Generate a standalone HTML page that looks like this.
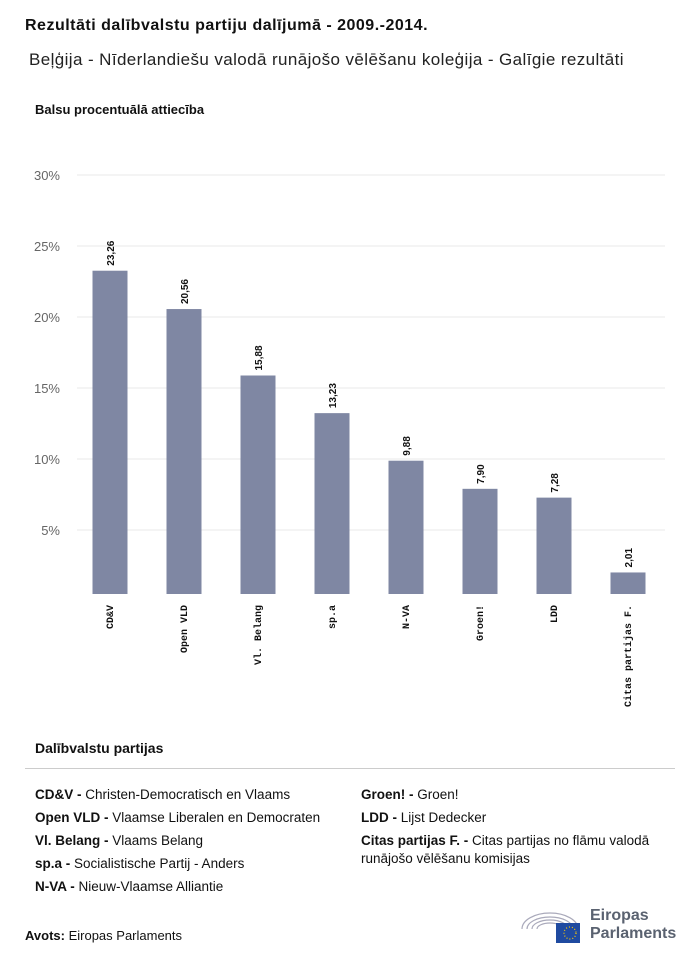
<!DOCTYPE html>
<html><head><meta charset="utf-8"><style>
body{margin:0;width:700px;height:962px;background:#fff;font-family:"Liberation Sans",sans-serif;color:#111;position:relative;overflow:hidden}
.a{position:absolute;white-space:nowrap}
.leg{font-size:13.5px;line-height:23px}
.leg b{font-weight:bold}
</style></head><body>
<div class="a" style="left:25px;top:17px;font-size:16px;font-weight:bold;letter-spacing:0.5px">Rezultāti dalībvalstu partiju dalījumā - 2009.-2014.</div>
<div class="a" style="left:29px;top:50px;font-size:17px;color:#222;letter-spacing:0.4px">Beļģija - Nīderlandiešu valodā runājošo vēlēšanu koleģija - Galīgie rezultāti</div>
<div class="a" style="left:35px;top:102px;font-size:13px;font-weight:bold">Balsu procentuālā attiecība</div>
<svg id="chart" width="700" height="730" style="position:absolute;left:0;top:0"></svg>
<div class="a" style="left:35px;top:740px;font-size:14px;font-weight:bold">Dalībvalstu partijas</div>
<div class="a" style="left:25px;top:768px;width:650px;height:1px;background:#ccc"></div>
<div class="a leg" style="left:35px;top:783px">
<div><b>CD&amp;V - </b>Christen-Democratisch en Vlaams</div>
<div><b>Open VLD - </b>Vlaamse Liberalen en Democraten</div>
<div><b>Vl. Belang - </b>Vlaams Belang</div>
<div><b>sp.a - </b>Socialistische Partij - Anders</div>
<div><b>N-VA - </b>Nieuw-Vlaamse Alliantie</div>
</div>
<div class="a leg" style="left:361px;top:783px">
<div><b>Groen! - </b>Groen!</div>
<div><b>LDD - </b>Lijst Dedecker</div>
<div style="line-height:18px;padding-top:3px"><b>Citas partijas F. - </b>Citas partijas no flāmu valodā<br>runājošo vēlēšanu komisijas</div>
</div>
<div class="a" style="left:25px;top:928px;font-size:13px"><b>Avots:</b> Eiropas Parlaments</div>
<div class="a" style="left:520px;top:905px;width:160px;height:40px">
<svg width="60" height="40" style="position:absolute;left:0;top:0"><g fill="none" stroke="#aab" stroke-width="1.2"><path d="M2 24 A28 16 0 0 1 58 24"/><path d="M7 24 A23 12 0 0 1 53 24"/><path d="M12 24 A18 9 0 0 1 48 24"/><path d="M17 24 A13 6 0 0 1 43 24"/></g><rect x="36" y="18" width="28" height="20" fill="#1f4aa0"/><circle cx="50" cy="28" r="6" fill="none" stroke="#fc0" stroke-width="1.2" stroke-dasharray="1 2"/></svg>
<div class="a" style="left:70px;top:2px;font-size:16px;font-weight:bold;color:#5a6270;line-height:18px">Eiropas<br>Parlaments</div>
</div>
<script>
const categories=["CD&V","Open VLD","Vl. Belang","sp.a","N-VA","Groen!","LDD","Citas partijas F."];
const values=[23.26,20.56,15.88,13.23,9.88,7.90,7.28,2.01];
const valueLabels=["23,26","20,56","15,88","13,23","9,88","7,90","7,28","2,01"];
const ticks=[5,10,15,20,25,30];
const ns="http://www.w3.org/2000/svg",svg=document.getElementById("chart");
const y=v=>601-v*14.2, x=i=>110+i*74;
function mk(t,a){const e=document.createElementNS(ns,t);for(const k in a)e.setAttribute(k,a[k]);svg.appendChild(e);return e;}
ticks.forEach(t=>{
 const l=mk("line",{x1:77,x2:665,y1:y(t),y2:y(t),stroke:"#e8e8e8"});
 
 
 const tx=mk("text",{x:60,y:y(t)+5,"text-anchor":"end","font-size":13,fill:"#666","font-family":"Liberation Sans,sans-serif"});
 tx.textContent=t+"%";
 
 
});
values.forEach((v,i)=>{
 const r=mk("rect",{x:x(i)-17.5,y:y(v),width:35,height:594-y(v),fill:"#7f87a3"});
 
 
 const vt=mk("text",{transform:`translate(${x(i)+4},${y(v)-5}) rotate(-90)`,"font-size":10,"font-weight":"bold",fill:"#111","font-family":"Liberation Sans,sans-serif"});
 vt.textContent=valueLabels[i];
 
 
 const ct=mk("text",{transform:`translate(${x(i)+3},605) rotate(-90)`,"text-anchor":"end","font-size":10,"font-weight":"bold",fill:"#111","font-family":"Liberation Mono,monospace"});
 ct.textContent=categories[i];
 
 
});
</script>
</body></html>
